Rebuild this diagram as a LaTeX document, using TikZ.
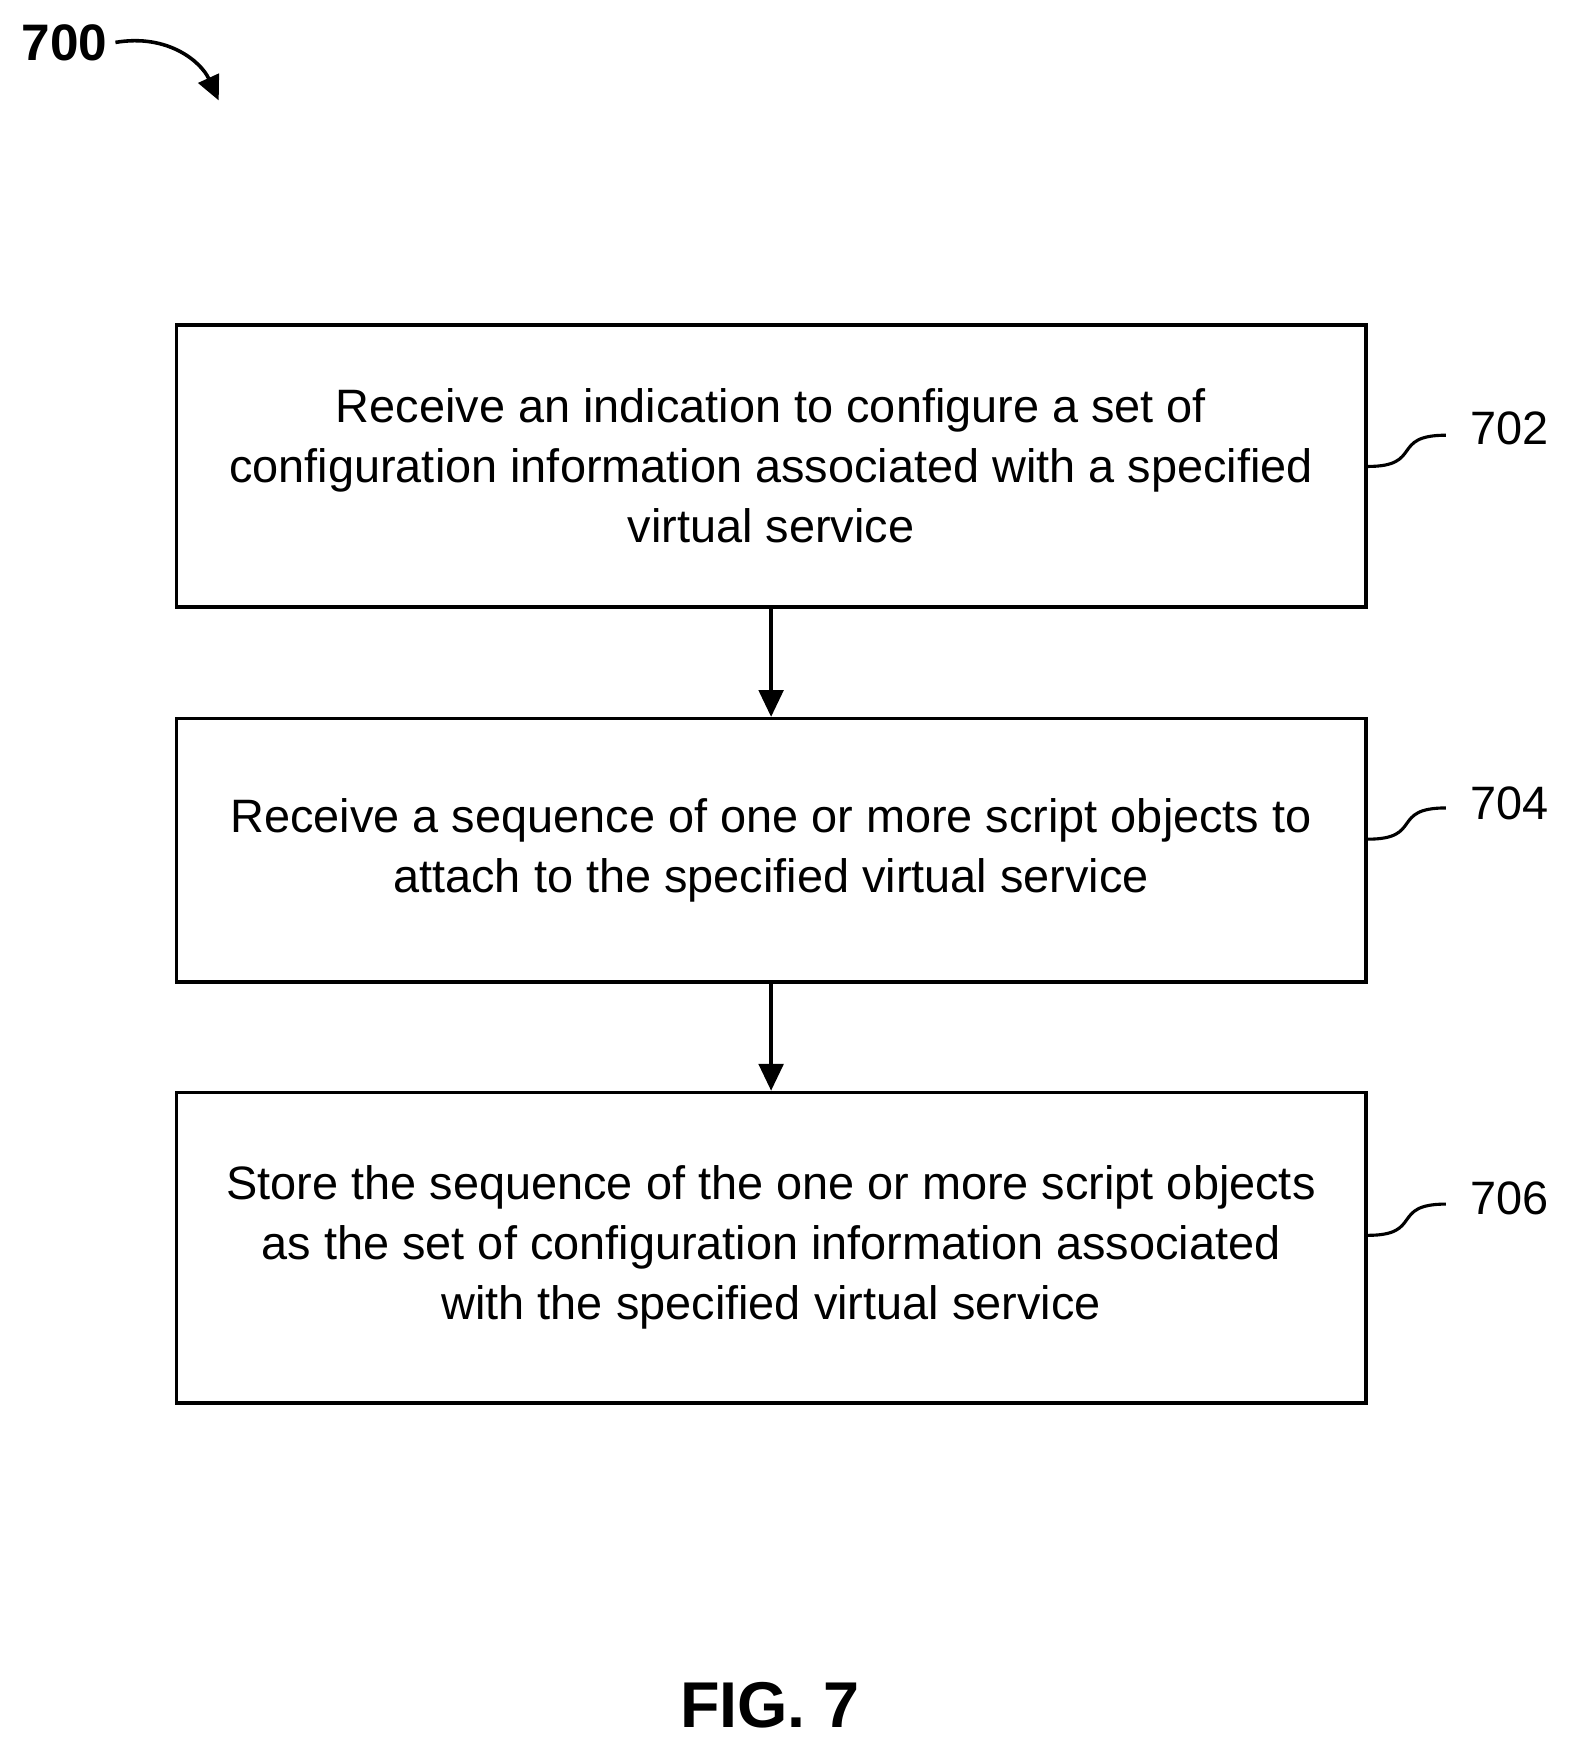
\documentclass[tikz,border=0pt]{standalone}
\usepackage{fontspec}
\setmainfont{Liberation Sans}
\usetikzlibrary{arrows.meta}
\begin{document}
\begin{tikzpicture}[x=0.5pt,y=-0.5pt,
  box/.style={draw,line width=1.6pt,minimum width=533pt,align=center,font=\fontsize{21}{27}\selectfont,inner sep=0pt},
  lbl/.style={font=\fontsize{21}{25}\selectfont},
  arr/.style={line width=1.6pt,-{Triangle[length=12pt,width=11pt]}},
  sq/.style={line width=1.4pt}]
\useasboundingbox (0,0) rectangle (1410,1570);
\node[box,minimum height=126.5pt] (b1) at (691,417.5) {Receive an indication to configure a set of\\configuration information associated with a specified\\virtual service};
\node[box,minimum height=118pt] (b2) at (691,762) {Receive a sequence of one or more script objects to\\attach to the specified virtual service};
\node[box,minimum height=139pt] (b3) at (691,1118) {Store the sequence of the one or more script objects\\as the set of configuration information associated\\with the specified virtual service};
\draw[arr] (b1.south) -- (b2.north);
\draw[arr] (b2.south) -- (b3.north);
\node[lbl] (l1) at (1353,384) {702};
\node[lbl] (l2) at (1353,720) {704};
\node[lbl] (l3) at (1353,1074) {706};
\foreach \b/\l/\y in {b1/l1/418,b2/l2/752,b3/l3/1107}{
  \coordinate (s) at (\b.east |- 0,\y);
  \draw[sq] (s) .. controls ++(50,0) and ++(-50,0) .. ++(70,-28);
}
\node[font=\bfseries\fontsize{23}{27}\selectfont] (t) at (58,38) {700};
\coordinate (te) at (196,90);
\draw[line width=1.6pt,-{Triangle[length=11pt,width=10pt]}] (t.east) .. controls (150,30) and (180,55) .. (te);
\node[font=\bfseries\fontsize{29}{33}\selectfont] (fig) at (690,1528) {FIG. 7};
\end{tikzpicture}
\end{document}
